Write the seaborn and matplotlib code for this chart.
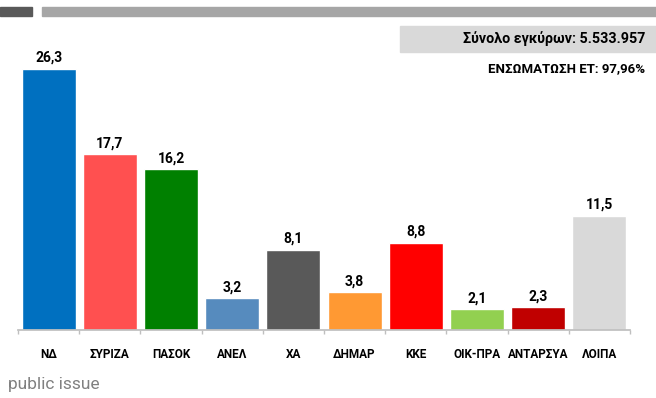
import matplotlib
matplotlib.use("Agg")
import matplotlib.pyplot as plt
import matplotlib.patches as mpatches
import seaborn as sns
import pandas as pd

parties = ["ΝΔ", "ΣΥΡΙΖΑ", "ΠΑΣΟΚ", "ΑΝΕΛ", "ΧΑ", "ΔΗΜΑΡ", "ΚΚΕ", "ΟΙΚ-ΠΡΑ", "ΑΝΤΑΡΣΥΑ", "ΛΟΙΠΑ"]
shares = [26.3, 17.7, 16.2, 3.2, 8.1, 3.8, 8.8, 2.1, 2.3, 11.5]
colors = ["#0070C0", "#FF5050", "#008000", "#568BBE", "#595959",
          "#FF9933", "#FF0000", "#92D050", "#C00000", "#D9D9D9"]

df = pd.DataFrame({"party": parties, "share": shares})

sns.set_theme(style="white")
plt.rcParams["font.family"] = ["Roboto", "DejaVu Sans"]

fig = plt.figure(figsize=(6.56, 3.98), dpi=100)
ax = fig.add_axes([18 / 656, 68 / 398, 612 / 656, 298 / 398])

sns.barplot(data=df, x="party", y="share", hue="party", palette=colors,
            width=0.88, legend=False, ax=ax, saturation=1)

for i, v in enumerate(shares):
    ax.text(i, v + 0.4, f"{v:.1f}".replace(".", ","), ha="center", va="bottom",
            fontsize=10, fontweight="bold", color="#000000")

ax.set_ylim(0, 30)
ax.set_xlim(-0.5, len(parties) - 0.5)
ax.set_yticks([])
ax.set_xlabel("")
ax.set_ylabel("")
for s in ["top", "right", "left"]:
    ax.spines[s].set_visible(False)
ax.spines["bottom"].set_color("#BFBFBF")
ax.set_xticks(range(len(parties)))
ax.set_xticklabels(parties, fontsize=8.5, fontweight="bold", color="#000000")
ax.set_xticks([i - 0.5 for i in range(len(parties) + 1)], minor=True)
ax.tick_params(axis="x", which="major", length=0, pad=13)
ax.tick_params(axis="x", which="minor", length=3, color="#BFBFBF", bottom=True)

# header decorations
fig.patches.append(mpatches.Rectangle((0, 1 - 16 / 398), 32 / 656, 9 / 398,
                                      transform=fig.transFigure, color="#595959"))
fig.patches.append(mpatches.Rectangle((42 / 656, 1 - 16 / 398), 614 / 656, 9 / 398,
                                      transform=fig.transFigure, color="#A6A6A6"))
fig.patches.append(mpatches.Rectangle((400 / 656, 1 - 52 / 398), 256 / 656, 26 / 398,
                                      transform=fig.transFigure, color="#D9D9D9"))
fig.text(645 / 656, 1 - 39 / 398, "Σύνολο εγκύρων: 5.533.957", ha="right", va="center",
         fontsize=10.3, fontweight="bold", color="#000000")
fig.text(645 / 656, 1 - 69 / 398, "ΕΝΣΩΜΑΤΩΣΗ ΕΤ: 97,96%", ha="right", va="center",
         fontsize=9.5, fontweight="bold", color="#000000")
fig.text(8 / 656, 1 - 384 / 398, "public issue", ha="left", va="center",
         fontsize=12.5, color="#808080")

fig.savefig("out.png", dpi=100, facecolor="white")
